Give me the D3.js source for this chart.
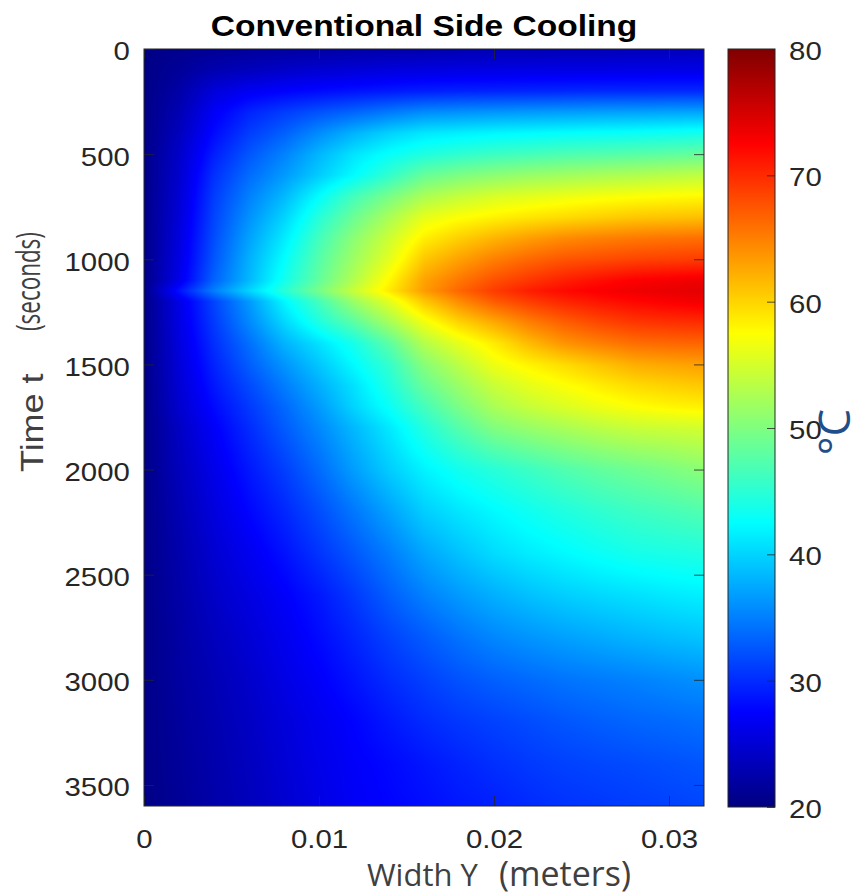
<!DOCTYPE html>
<html>
<head>
<meta charset="utf-8">
<script src="https://cdn.jsdelivr.net/npm/d3@7"></script>
<style>
  body { margin: 0; background: #fff; }
  svg { display: block; }
</style>
</head>
<body>
<svg id="chart" width="864" height="896"></svg>
<script>
// width positions (m) and sample times (s) of the temperature grid
const widths = [0, 0.002, 0.004, 0.006, 0.008, 0.010, 0.012, 0.014, 0.016,
                0.018, 0.020, 0.022, 0.024, 0.026, 0.028, 0.030, 0.032];
const times = [0, 100, 200, 300, 400, 500, 600, 700, 800, 900, 1000, 1100, 1150,
               1200, 1300, 1400, 1500, 1600, 1700, 1800,
               2000, 2200, 2400, 2600, 2800, 3000, 3200, 3400, 3600];

// temperature (°C), one row per time, one value per width
const temps = [
  [20.3, 20.8, 21.2, 21.5, 21.8, 22.0, 22.2, 22.4, 22.6, 22.8, 23.0, 23.0, 23.2, 23.2, 23.4, 23.4, 23.5],
  [20.3, 21.5, 22.8, 23.6, 24.3, 24.8, 25.2, 25.5, 25.7, 25.8, 25.9, 26.0, 26.0, 26.0, 26.1, 26.1, 26.1],
  [20.3, 22.3, 25.3, 26.8, 27.5, 28.0, 28.5, 28.9, 29.2, 29.4, 29.5, 29.6, 29.7, 29.8, 29.8, 29.9, 29.9],
  [20.4, 23.0, 27.0, 29.5, 31.0, 32.3, 33.4, 34.6, 35.7, 36.0, 36.3, 36.5, 36.7, 36.9, 37.0, 37.1, 37.2],
  [20.4, 23.6, 28.0, 31.0, 33.1, 35.7, 38.0, 39.8, 41.1, 41.6, 42.0, 42.3, 42.6, 42.8, 43.0, 43.3, 43.6],
  [20.4, 24.3, 29.2, 32.5, 35.1, 38.2, 40.9, 42.8, 44.3, 45.2, 46.0, 46.5, 47.0, 47.3, 47.6, 48.0, 48.4],
  [20.4, 24.6, 30.3, 33.8, 36.5, 39.5, 42.4, 45.4, 48.5, 49.8, 50.7, 51.4, 51.9, 52.4, 52.8, 53.3, 53.7],
  [20.4, 24.9, 31.0, 35.0, 38.3, 42.5, 46.5, 49.5, 52.5, 54.0, 55.2, 55.8, 56.4, 56.9, 57.3, 57.6, 57.8],
  [20.4, 25.2, 31.5, 36.0, 39.9, 44.7, 48.8, 52.4, 56.0, 57.3, 58.2, 59.0, 59.6, 60.2, 60.8, 61.0, 61.3],
  [20.4, 25.5, 32.0, 37.0, 41.3, 46.4, 50.7, 54.5, 58.4, 60.3, 61.9, 63.2, 64.3, 64.9, 65.4, 65.7, 66.0],
  [20.4, 25.8, 32.5, 37.8, 42.5, 47.5, 51.8, 55.8, 60.8, 63.0, 65.0, 66.4, 67.5, 68.0, 68.5, 68.8, 69.0],
  [20.4, 26.2, 33.3, 38.3, 43.5, 48.3, 53.0, 57.8, 62.9, 65.5, 67.8, 69.3, 70.7, 71.7, 72.6, 73.0, 73.5],
  [20.5, 28.5, 35.0, 40.0, 44.8, 49.5, 54.3, 58.7, 63.3, 66.5, 69.0, 70.8, 72.0, 72.8, 73.4, 73.8, 74.1],
  [20.4, 26.0, 31.5, 36.5, 42.0, 46.5, 51.6, 55.8, 60.8, 64.3, 67.2, 69.0, 70.4, 71.4, 72.2, 72.8, 73.3],
  [20.4, 25.8, 30.9, 35.5, 40.1, 44.2, 47.8, 52.1, 56.6, 60.0, 62.5, 65.0, 66.9, 68.3, 69.3, 69.7, 69.9],
  [20.4, 25.5, 30.2, 34.0, 38.0, 40.8, 43.8, 47.8, 53.0, 56.0, 58.6, 61.5, 63.8, 65.0, 66.0, 66.4, 66.6],
  [20.4, 25.2, 29.5, 33.0, 36.2, 39.2, 42.3, 45.5, 50.4, 53.5, 56.5, 58.2, 59.6, 61.0, 62.3, 62.8, 63.2],
  [20.4, 24.9, 28.8, 31.8, 34.8, 37.8, 40.8, 44.3, 48.5, 51.5, 54.3, 56.0, 57.3, 58.5, 59.6, 60.2, 60.8],
  [20.4, 24.6, 28.0, 30.8, 33.6, 36.6, 40.0, 43.0, 46.5, 49.7, 52.5, 54.2, 55.4, 56.5, 57.4, 58.0, 58.4],
  [20.4, 24.0, 27.2, 30.0, 32.8, 35.5, 38.4, 41.2, 44.5, 47.5, 50.1, 51.4, 52.5, 53.5, 54.3, 54.6, 54.9],
  [20.4, 23.5, 26.2, 28.8, 31.1, 33.8, 36.8, 39.5, 41.8, 43.5, 44.8, 46.0, 47.2, 48.2, 49.0, 49.8, 50.7],
  [20.4, 23.0, 25.5, 27.7, 29.7, 32.0, 34.5, 37.0, 39.6, 41.0, 42.2, 43.3, 44.3, 45.2, 46.0, 46.6, 47.2],
  [20.4, 22.6, 24.8, 26.6, 28.4, 30.5, 32.6, 34.8, 37.2, 38.9, 40.4, 41.4, 42.2, 43.0, 43.7, 44.0, 44.3],
  [20.4, 22.3, 24.2, 25.7, 27.2, 28.8, 30.8, 33.0, 35.0, 36.5, 37.8, 38.8, 39.6, 40.2, 40.7, 41.2, 41.6],
  [20.4, 22.1, 23.6, 25.0, 26.5, 28.0, 29.6, 31.3, 32.8, 34.2, 35.4, 36.2, 36.9, 37.5, 38.1, 38.6, 39.0],
  [20.4, 21.9, 23.1, 24.4, 25.9, 27.2, 28.6, 30.0, 31.2, 32.3, 33.1, 33.7, 34.3, 34.7, 35.1, 35.6, 36.0],
  [20.4, 21.7, 22.8, 24.0, 25.3, 26.5, 27.6, 28.8, 29.9, 30.7, 31.3, 31.9, 32.5, 33.0, 33.4, 33.7, 34.0],
  [20.4, 21.5, 22.6, 23.7, 25.0, 26.2, 27.2, 27.9, 28.7, 29.5, 30.2, 30.8, 31.3, 31.6, 31.9, 32.2, 32.5],
  [20.4, 21.3, 22.4, 23.5, 24.7, 25.9, 27.0, 27.6, 28.2, 28.8, 29.3, 29.9, 30.4, 30.7, 31.0, 31.3, 31.6]
];

const yTicks = [0, 500, 1000, 1500, 2000, 2500, 3000, 3500];
const xTicks = [0, 0.01, 0.02, 0.03];
const cTicks = [20, 30, 40, 50, 60, 70, 80];

const svg = d3.select('#chart');
const margin = { top: 49, left: 144 };
const plotW = 560, plotH = 757;
const bar = { left: 728, width: 47 };
const tickFont = 'Liberation Sans, Arial, sans-serif';
const labelFont = 'Open Sans, sans-serif';
const stretch = 'scale(1.13,1)';

const x = d3.scaleLinear().domain([0, 0.032]).range([margin.left, margin.left + plotW]);
const y = d3.scaleLinear().domain([0, 3600]).range([margin.top, margin.top + plotH]);
const c = d3.scaleLinear().domain([20, 80]).range([margin.top + plotH + 1, margin.top]);

// MATLAB jet colormap over 20..80
const jet = d3.scaleLinear()
    .domain([20, 27.5, 42.5, 57.5, 72.5, 80])
    .range(['#000080', '#0000ff', '#00ffff', '#ffff00', '#ff0000', '#800000'])
    .clamp(true);

// heatmap, drawn into a canvas then placed as an image
const colIndex = d3.scaleLinear().domain(widths).range(d3.range(widths.length)).clamp(true);
const rowIndex = d3.scaleLinear().domain(times).range(d3.range(times.length)).clamp(true);
const lut = d3.range(601).map(i => d3.rgb(jet(20 + i / 10)));

const canvas = document.createElement('canvas');
canvas.width = plotW;
canvas.height = plotH;
const ctx = canvas.getContext('2d');
const img = ctx.createImageData(plotW, plotH);
const cols = d3.range(plotW).map(px => colIndex(x.invert(margin.left + px + 0.5)));

for (let py = 0; py < plotH; py++) {
    const r = rowIndex(y.invert(margin.top + py + 0.5));
    const r0 = Math.floor(r), r1 = Math.min(r0 + 1, times.length - 1), fr = r - r0;
    for (let px = 0; px < plotW; px++) {
        const cc = cols[px];
        const c0 = Math.floor(cc), c1 = Math.min(c0 + 1, widths.length - 1), fc = cc - c0;
        const top = temps[r0][c0] * (1 - fc) + temps[r0][c1] * fc;
        const bot = temps[r1][c0] * (1 - fc) + temps[r1][c1] * fc;
        const v = top * (1 - fr) + bot * fr;
        const col = lut[Math.max(0, Math.min(600, Math.round((v - 20) * 10)))];
        const i = (py * plotW + px) * 4;
        img.data[i] = col.r;
        img.data[i + 1] = col.g;
        img.data[i + 2] = col.b;
        img.data[i + 3] = 255;
    }
}
ctx.putImageData(img, 0, 0);

svg.append('image')
    .attr('x', margin.left)
    .attr('y', margin.top)
    .attr('width', plotW)
    .attr('height', plotH)
    .attr('preserveAspectRatio', 'none')
    .attr('href', canvas.toDataURL());

function styleAxis(g) {
    g.select('.domain').remove();
    g.selectAll('.tick line').attr('stroke', '#262626').attr('stroke-opacity', 0.8);
    g.selectAll('.tick text')
        .attr('fill', '#262626')
        .attr('font-size', 26)
        .attr('font-family', tickFont);
}

// axes with inward ticks, like MATLAB
svg.append('g')
    .attr('transform', `translate(${margin.left},0)`)
    .call(d3.axisLeft(y).tickValues(yTicks).tickSize(-10).tickPadding(12.5).tickFormat(d3.format('d')))
    .call(styleAxis)
    .selectAll('.tick text')
        .attr('dy', '0.42em')
        .attr('transform', stretch);

svg.append('g')
    .attr('transform', `translate(${margin.left + plotW},0)`)
    .call(d3.axisRight(y).tickValues(yTicks).tickSize(-10).tickFormat(''))
    .call(styleAxis);

svg.append('g')
    .attr('transform', `translate(0,${margin.top + plotH})`)
    .call(d3.axisBottom(x).tickValues(xTicks).tickSize(-10).tickPadding(24).tickFormat(d3.format('')))
    .call(styleAxis)
    .selectAll('.tick text')
        .attr('transform', stretch);

svg.append('g')
    .attr('transform', `translate(0,${margin.top})`)
    .call(d3.axisTop(x).tickValues(xTicks).tickSize(-10).tickFormat(''))
    .call(styleAxis);

svg.append('rect')
    .attr('x', margin.left)
    .attr('y', margin.top)
    .attr('width', plotW)
    .attr('height', plotH)
    .attr('fill', 'none')
    .attr('stroke', '#262626')
    .attr('stroke-width', 1);

// colorbar
const grad = svg.append('defs').append('linearGradient')
    .attr('id', 'jet')
    .attr('x1', 0).attr('y1', 1).attr('x2', 0).attr('y2', 0);
grad.selectAll('stop')
    .data(jet.domain())
    .join('stop')
        .attr('offset', d => (d - 20) / 60)
        .attr('stop-color', d => jet(d));

svg.append('rect')
    .attr('x', bar.left)
    .attr('y', c(80))
    .attr('width', bar.width)
    .attr('height', c(20) - c(80))
    .attr('fill', 'url(#jet)')
    .attr('stroke', '#262626')
    .attr('stroke-width', 1);

svg.append('g')
    .attr('transform', `translate(${bar.left + bar.width},0)`)
    .call(d3.axisRight(c).tickValues(cTicks).tickSize(-8).tickPadding(12.5))
    .call(styleAxis)
    .selectAll('.tick text')
        .attr('dy', '0.4em')
        .attr('transform', stretch);

// title and labels
svg.append('text')
    .attr('transform', 'translate(424,36) scale(1.157,1)')
    .attr('text-anchor', 'middle')
    .attr('font-family', tickFont)
    .attr('font-weight', 'bold')
    .attr('font-size', 29)
    .attr('fill', '#000')
    .text('Conventional Side Cooling');

svg.append('text')
    .attr('transform', 'translate(43,472) rotate(-90) scale(1.16,1)')
    .attr('font-family', tickFont)
    .attr('font-size', 31)
    .attr('fill', '#404040')
    .text('Time t');

svg.append('text')
    .attr('transform', 'translate(40,331) rotate(-90) scale(0.68,1)')
    .attr('font-family', labelFont)
    .attr('font-size', 33)
    .attr('fill', '#404040')
    .text('(seconds)');

svg.append('text')
    .attr('x', 367)
    .attr('y', 886)
    .attr('font-family', labelFont)
    .attr('font-size', 31)
    .attr('fill', '#404040')
    .text('Width Y');

svg.append('text')
    .attr('x', 499)
    .attr('y', 886)
    .attr('font-family', labelFont)
    .attr('font-size', 34)
    .attr('fill', '#404040')
    .text('(meters)');

svg.append('text')
    .attr('transform', 'translate(850,432) rotate(-90)')
    .attr('text-anchor', 'middle')
    .attr('font-family', labelFont)
    .attr('font-size', 44)
    .attr('fill', '#1f4e8a')
    .text('°C');
</script>
</body>
</html>
